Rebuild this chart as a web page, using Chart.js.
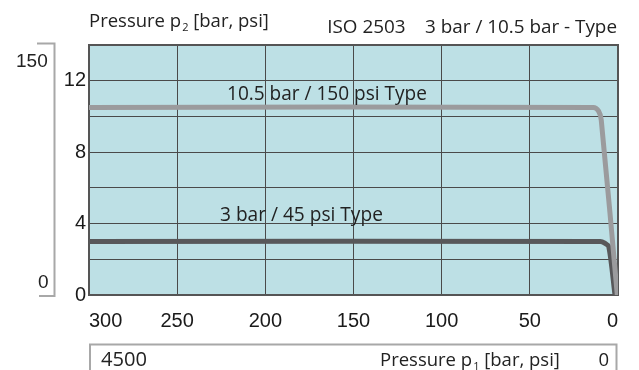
<!DOCTYPE html>
<html>
<head>
<meta charset="utf-8">
<script src="https://cdn.jsdelivr.net/npm/chart.js@4/dist/chart.umd.min.js"></script>
<style>
  html, body { margin: 0; padding: 0; background: #fff; }
  #wrap { width: 639px; height: 370px; position: relative; }
</style>
</head>
<body>
<div id="wrap"><canvas id="chart"></canvas></div>
<script>
// outlet pressure p2 [bar] vs inlet pressure p1 [psi]
const xTicks = [0, 50, 100, 150, 200, 250, 300];
const yTickLabels = [0, 4, 8, 12];

// 10.5 bar / 150 psi type
const highP1 = [300, 14, 11, 9.5, 0.4];
const highP2 = [10.5, 10.5, 10.3, 9.8, 0];

// 3 bar / 45 psi type
const lowP1 = [300, 10, 7.5, 5.2, 1.7];
const lowP2 = [3, 3, 2.9, 2.7, 0];

const highLabel = '10.5 bar / 150 psi Type';
const lowLabel = '3 bar / 45 psi Type';

const textFont = "'Open Sans', 'Noto Sans', sans-serif";
const numFont = "'Liberation Sans', Arial, sans-serif";

function toPoints(xs, ys) {
  return xs.map((x, i) => ({ x: x, y: ys[i] }));
}

// draw text scaled to a given width
function fitText(ctx, s, x, y, width, align) {
  ctx.font = '20px ' + textFont;
  const size = 20 * width / ctx.measureText(s).width;
  ctx.font = size.toFixed(2) + 'px ' + textFont;
  ctx.textAlign = align || 'left';
  ctx.textBaseline = 'alphabetic';
  ctx.fillText(s, x, y);
}

// "Pressure p<sub>n</sub> [bar, psi]"
function pressureText(ctx, sub, x, y) {
  ctx.textAlign = 'left';
  ctx.textBaseline = 'alphabetic';
  ctx.font = '18.5px ' + textFont;
  ctx.fillText('Pressure p', x, y);
  x += ctx.measureText('Pressure p').width + 1;
  ctx.font = '11px ' + textFont;
  ctx.fillText(sub, x, y + 4);
  x += ctx.measureText(sub).width;
  ctx.font = '18.5px ' + textFont;
  ctx.fillText(' [bar, psi]', x, y);
}

const decor = {
  id: 'decor',
  beforeDraw(chart) {
    const { ctx, chartArea: a } = chart;
    ctx.save();
    ctx.fillStyle = '#bde0e5';
    ctx.fillRect(a.left, a.top, a.right - a.left, a.bottom - a.top);
    ctx.restore();
  },
  beforeDatasetsDraw(chart) {
    const { ctx, chartArea: a } = chart;
    ctx.save();
    ctx.strokeStyle = '#555';
    ctx.lineWidth = 2;
    ctx.strokeRect(a.left, a.top, a.right - a.left, a.bottom - a.top);
    ctx.restore();
  },
  afterDraw(chart) {
    const { ctx, chartArea: a } = chart;
    ctx.save();
    ctx.fillStyle = '#222';

    pressureText(ctx, '2', a.left, 27);
    fitText(ctx, 'ISO 2503    3 bar / 10.5 bar - Type', 617, 33, 290, 'right');

    // curve labels
    fitText(ctx, highLabel, 227, 100, 200, 'left');
    fitText(ctx, lowLabel, 220, 221, 163, 'left');

    // psi bracket on the left
    ctx.strokeStyle = '#a8a8a8';
    ctx.lineWidth = 2;
    ctx.beginPath();
    ctx.moveTo(37, 43.5);
    ctx.lineTo(54.5, 43.5);
    ctx.lineTo(54.5, 296);
    ctx.lineTo(39, 296);
    ctx.stroke();
    ctx.font = '19px ' + numFont;
    ctx.textAlign = 'left';
    ctx.fillText('150', 16, 67);
    ctx.fillText('0', 38, 288);

    // psi bracket at the bottom
    ctx.beginPath();
    ctx.moveTo(90, 372);
    ctx.lineTo(90, 344.5);
    ctx.lineTo(616.5, 344.5);
    ctx.lineTo(616.5, 372);
    ctx.stroke();
    fitText(ctx, '4500', 101, 366, 46, 'left');
    ctx.font = '18.5px ' + textFont;
    ctx.textAlign = 'right';
    ctx.fillText('0', 609, 366);
    pressureText(ctx, '1', 380, 366);
    ctx.restore();
  }
};

new Chart(document.getElementById('chart'), {
  type: 'line',
  data: {
    datasets: [
      {
        label: highLabel,
        data: toPoints(highP1, highP2),
        borderColor: '#9b9b9d',
        borderWidth: 5,
        pointRadius: 0,
        borderJoinStyle: 'round',
        borderCapStyle: 'round',
        tension: 0.3,
        fill: false,
      },
      {
        label: lowLabel,
        data: toPoints(lowP1, lowP2),
        borderColor: '#58585a',
        borderWidth: 5,
        pointRadius: 0,
        borderJoinStyle: 'round',
        tension: 0.3,
        fill: false,
      }
    ]
  },
  options: {
    responsive: true,
    maintainAspectRatio: false,
    animation: false,
    layout: { padding: { left: 0, top: 45, right: 21, bottom: 0 } },
    plugins: {
      legend: { display: false },
      tooltip: { enabled: false }
    },
    scales: {
      x: {
        type: 'linear',
        reverse: true,
        min: 0,
        max: 300,
        afterFit: s => { s.height = 75; },
        afterBuildTicks: s => { s.ticks = xTicks.map(v => ({ value: v })); },
        grid: { color: '#4a4a4a', drawTicks: false },
        border: { display: false },
        ticks: {
          align: 'inner',
          padding: 14,
          maxRotation: 0,
          autoSkip: false,
          color: '#1a1a1a',
          font: { family: numFont, size: 20 }
        }
      },
      y: {
        min: 0,
        max: 14,
        afterFit: s => { s.width = 89; },
        grid: { color: '#4a4a4a', drawTicks: false },
        border: { display: false },
        ticks: {
          stepSize: 2,
          padding: 3,
          color: '#1a1a1a',
          font: { family: numFont, size: 20 },
          callback: v => yTickLabels.includes(v) ? v : ''
        }
      }
    }
  },
  plugins: [decor]
});
</script>
</body>
</html>
